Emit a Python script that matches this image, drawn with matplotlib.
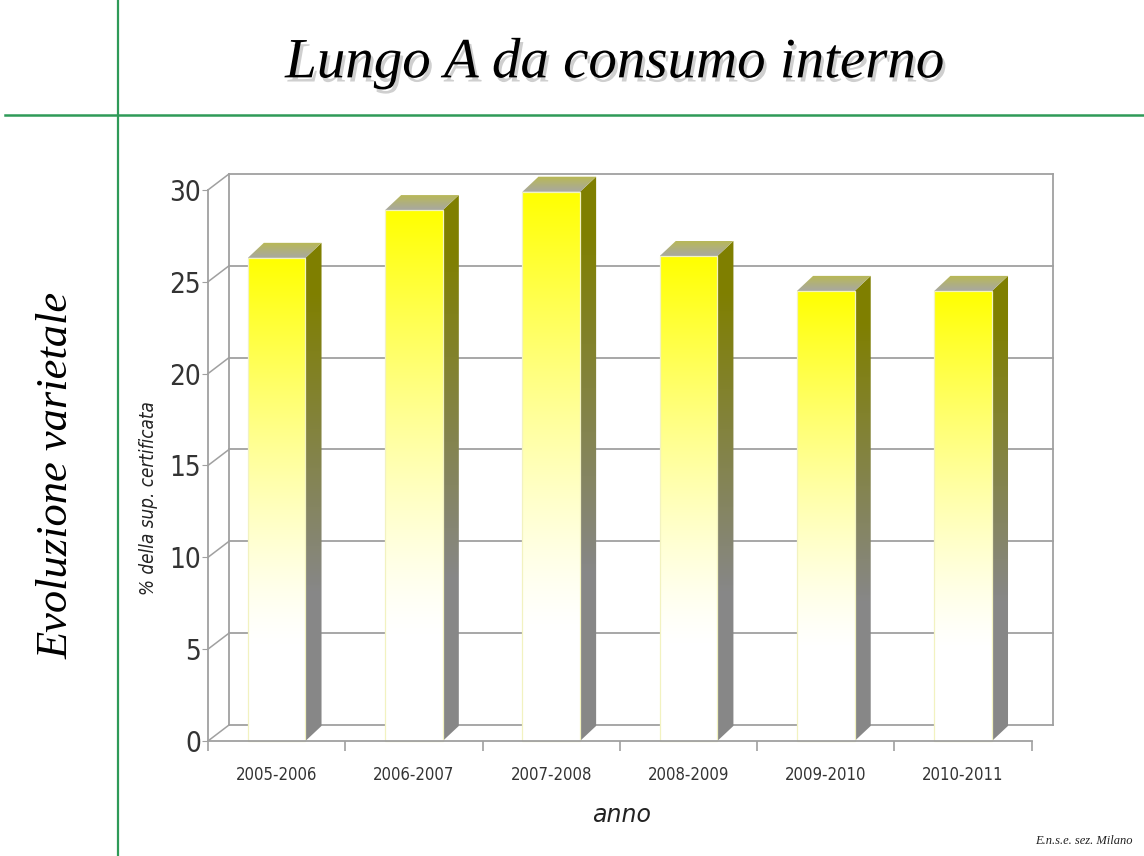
import numpy as np
import matplotlib
matplotlib.use("Agg")
import matplotlib.pyplot as plt
from matplotlib.patches import Polygon
from matplotlib.lines import Line2D
from matplotlib import patheffects
from matplotlib.colors import to_rgb

# data
anni = ["2005-2006", "2006-2007", "2007-2008", "2008-2009", "2009-2010", "2010-2011"]
valori = [26.3, 28.9, 29.9, 26.4, 24.5, 24.5]
yticks = [0, 5, 10, 15, 20, 25, 30]

narrow = dict(family="DejaVu Sans", stretch="condensed")
serif = ["Liberation Serif", "DejaVu Serif"]

fig = plt.figure(figsize=(11.44, 8.56), dpi=100)
ax = fig.add_axes([0.1518, 0.1129, 0.7861, 0.6974])
ax.set_xlim(-0.25, 6.3)
ax.set_ylim(-1, 31.5)

# depth offsets of the fake 3d (in data units)
wdx, wdy = 0.153, 0.87   # back wall
bdx, bdy = 0.117, 0.82   # bar depth
w = 0.42
grid_c = "#a0a0a0"

# walls and grid
for y in yticks:
    ax.plot([wdx, 6 + wdx], [y + wdy, y + wdy], color=grid_c, lw=1.3, zorder=1)
    ax.plot([0, wdx], [y, y + wdy], color=grid_c, lw=1.1, zorder=1)
ax.plot([wdx, wdx], [wdy, 30 + wdy], color=grid_c, lw=1.3, zorder=1)
ax.plot([6 + wdx, 6 + wdx], [wdy, 30 + wdy], color=grid_c, lw=1.3, zorder=1)


def clipped_img(img, poly, extent, z=3):
    ax.add_patch(poly)
    poly.set_visible(False)
    im = ax.imshow(img, extent=extent, origin="lower", aspect="auto",
                   interpolation="bilinear", zorder=z)
    im.set_clip_path(poly)


t = np.linspace(0, 1, 256)
for i, v in enumerate(valori):
    xl, xr = i + 0.5 - w / 2, i + 0.5 + w / 2
    # front face: white at bottom, yellow at top
    f = np.clip((t - 0.2) / 0.8, 0, 1) ** 1.3
    img = np.ones((256, 1, 3))
    img[:, 0, 2] = 1 - f
    front = Polygon([(xl, 0), (xr, 0), (xr, v), (xl, v)], closed=True)
    clipped_img(img, front, [xl, xr, 0, v])
    ax.add_patch(Polygon([(xl, 0), (xr, 0), (xr, v), (xl, v)], closed=True,
                         fill=False, edgecolor="#f2f2c0", lw=0.9, zorder=4))
    # side face: olive at top, gray lower down
    g = np.clip((0.9 - t) / 0.6, 0, 1)
    side = np.zeros((256, 1, 3))
    side[:, 0, 0] = 0.50 + 0.03 * g
    side[:, 0, 1] = 0.50 + 0.03 * g
    side[:, 0, 2] = 0.53 * g
    sp = Polygon([(xr, 0), (xr + bdx, bdy), (xr + bdx, v + bdy), (xr, v)], closed=True)
    clipped_img(side, sp, [xr, xr + bdx, 0, v + bdy])
    # top face: gray in front, olive-yellow at the back
    ct, cb = np.array(to_rgb("#b9b952")), np.array(to_rgb("#a8a8a2"))
    top_img = cb[None, None, :] + (ct - cb)[None, None, :] * t[:, None, None]
    tp = Polygon([(xl, v), (xr, v), (xr + bdx, v + bdy), (xl + bdx, v + bdy)], closed=True)
    clipped_img(top_img, tp, [xl, xr + bdx, v, v + bdy])

# front axes
for s in ["top", "right"]:
    ax.spines[s].set_visible(False)
ax.spines["left"].set_position(("data", 0))
ax.spines["left"].set_bounds(0, 30)
ax.spines["bottom"].set_position(("data", 0))
ax.spines["bottom"].set_bounds(0, 6)
for s in ["left", "bottom"]:
    ax.spines[s].set_color(grid_c)
    ax.spines[s].set_linewidth(1.3)
    ax.spines[s].set_zorder(5)

ax.set_yticks(yticks)
ax.set_yticklabels([str(y) for y in yticks], fontsize=20, color="#333333", **narrow)
ax.tick_params(axis="y", length=4, color=grid_c, pad=1)
ax.set_xticks(np.arange(6) + 0.5)
ax.set_xticklabels(anni, fontsize=12, color="#333333", **narrow)
ax.set_xticks(np.arange(7), minor=True)
ax.tick_params(axis="x", which="major", length=0, pad=18)
ax.tick_params(axis="x", which="minor", length=7, color=grid_c, width=1.2)
ax.patch.set_visible(False)

# texts
fig.text(0.1294, 0.418, "% della sup. certificata", rotation=90, ha="center",
         va="center", fontsize=13.5, style="italic", color="#222222", **narrow)
fig.text(0.5437, 0.048, "anno", ha="center", va="center", fontsize=17,
         style="italic", color="#222222")
fig.text(0.5376, 0.926, "Lungo A da consumo interno", ha="center", va="center",
         fontsize=41, style="italic", family=serif, color="black",
         path_effects=[patheffects.withSimplePatchShadow(offset=(2, -3),
                                                          shadow_rgbFace="#888888",
                                                          alpha=0.4)])
fig.text(0.0498, 0.445, "Evoluzione varietale", rotation=90, ha="center",
         va="center", fontsize=32, style="italic", family=serif, color="black")
fig.text(0.990, 0.0175, "E.n.s.e. sez. Milano", ha="right", va="center",
         fontsize=9, style="italic", family=serif, color="#222222")

# green slide guides
green = "#2f9a58"
fig.add_artist(Line2D([0.1031, 0.1031], [0, 1], color=green, lw=1.6))
fig.add_artist(Line2D([0.004, 1], [0.8657, 0.8657], color=green, lw=1.8))

fig.savefig("out.png", dpi=100)
